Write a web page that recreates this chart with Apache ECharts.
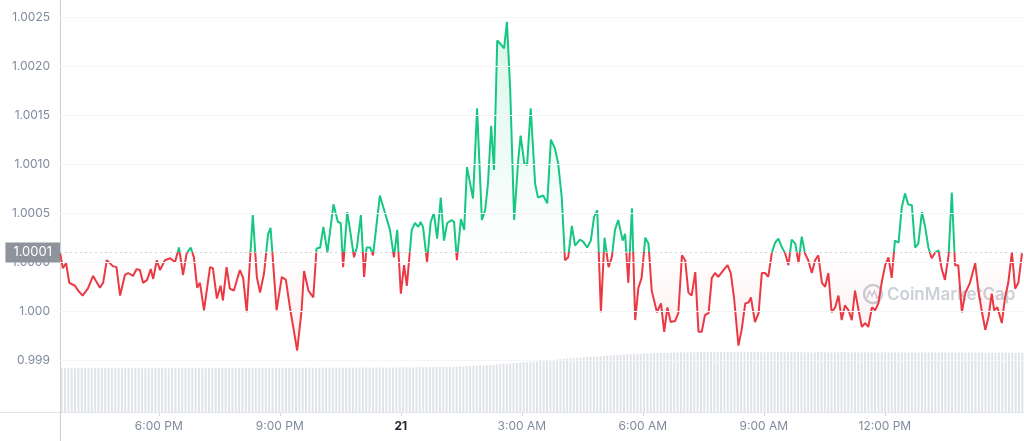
<!DOCTYPE html>
<html><head><meta charset="utf-8">
<script src="https://cdn.jsdelivr.net/npm/echarts@6/dist/echarts.min.js"></script>
<style>html,body{margin:0;padding:0;background:#fff}#c{width:1024px;height:441px}</style>
</head><body><div id="c"></div>
<script>
// hours relative to midnight of the 21st
const times = [
-8.45,-8.38,-8.30,-8.22,-8.08,-8.00,-7.89,-7.76,-7.63,-7.46,
-7.38,-7.29,-7.14,-7.05,-6.96,-6.84,-6.76,-6.64,-6.55,-6.47,
-6.39,-6.29,-6.20,-6.14,-6.05,-5.97,-5.85,-5.72,-5.60,-5.50,
-5.40,-5.31,-5.21,-5.13,-5.05,-4.98,-4.88,-4.73,-4.66,-4.56,
-4.47,-4.41,-4.32,-4.24,-4.14,-3.99,-3.91,-3.82,-3.67,-3.57,
-3.49,-3.39,-3.29,-3.23,-3.18,-3.08,-2.95,-2.85,-2.75,-2.57,
-2.46,-2.40,-2.29,-2.17,-2.09,-2.00,-1.92,-1.82,-1.67,-1.56,
-1.49,-1.43,-1.33,-1.26,-1.16,-1.09,-0.99,-0.91,-0.85,-0.76,
-0.69,-0.52,-0.39,-0.27,-0.17,-0.09,0.00,0.08,0.15,0.27,
0.35,0.43,0.49,0.55,0.65,0.74,0.82,0.90,0.99,1.07,
1.15,1.26,1.32,1.39,1.49,1.57,1.64,1.79,1.89,2.01,
2.09,2.16,2.24,2.31,2.39,2.46,2.56,2.63,2.71,2.81,
2.91,2.97,3.06,3.13,3.22,3.33,3.40,3.53,3.63,3.72,
3.82,3.90,3.99,4.07,4.15,4.24,4.32,4.44,4.52,4.62,
4.71,4.79,4.87,4.96,5.05,5.15,5.23,5.31,5.39,5.50,
5.56,5.64,5.73,5.81,5.89,5.97,6.06,6.14,6.22,6.35,
6.45,6.53,6.61,6.69,6.80,6.88,6.97,7.05,7.13,7.21,
7.30,7.38,7.46,7.54,7.63,7.71,7.79,7.87,8.00,8.10,
8.18,8.26,8.37,8.45,8.54,8.62,8.68,8.78,8.87,8.95,
9.03,9.11,9.20,9.28,9.36,9.45,9.53,9.61,9.69,9.78,
9.86,9.94,10.02,10.10,10.19,10.27,10.35,10.44,10.52,10.60,
10.68,10.77,10.85,10.93,11.01,11.10,11.18,11.26,11.34,11.43,
11.51,11.59,11.68,11.76,11.84,11.92,12.01,12.09,12.17,12.25,
12.34,12.42,12.50,12.58,12.67,12.75,12.83,12.92,13.00,13.08,
13.16,13.25,13.33,13.41,13.49,13.58,13.66,13.74,13.82,13.91,
13.99,14.11,14.24,14.32,14.40,14.49,14.57,14.65,14.71,14.79,
14.90,14.98,15.06,15.15,15.23,15.31,15.40
];
const prices = [
1.00010,0.99994,0.99999,0.99979,0.99976,0.99971,0.99966,0.99973,0.99986,0.99974,
0.99979,1.00002,0.99996,0.99995,0.99966,0.99987,0.99989,0.99986,0.99993,0.99992,
0.99979,0.99982,0.99993,0.99983,1.00002,0.99992,1.00002,1.00004,1.00000,1.00015,
0.99987,1.00009,1.00015,1.00005,0.99974,0.99979,0.99951,0.99995,0.99994,0.99963,
0.99976,0.99961,0.99995,0.99973,0.99971,0.99992,0.99984,0.99949,1.00048,0.99985,
0.99969,0.99989,1.00029,1.00035,1.00007,0.99951,0.99985,0.99982,0.99954,0.99910,
0.99951,0.99991,0.99971,0.99964,1.00014,1.00015,1.00036,1.00010,1.00059,1.00041,
1.00040,0.99995,1.00051,1.00033,1.00005,1.00015,1.00048,0.99985,1.00015,1.00015,
1.00007,1.00068,1.00050,1.00033,1.00005,1.00033,0.99968,0.99997,0.99976,1.00033,
1.00040,1.00036,1.00041,1.00036,1.00000,1.00041,1.00050,1.00024,1.00066,1.00022,
1.00040,1.00043,1.00041,1.00002,1.00044,1.00033,1.00097,1.00065,1.00157,1.00043,
1.00053,1.00080,1.00139,1.00094,1.00226,1.00223,1.00218,1.00245,1.00178,1.00043,
1.00104,1.00129,1.00101,1.00099,1.00157,1.00080,1.00066,1.00068,1.00060,1.00125,
1.00116,1.00101,1.00066,1.00002,1.00005,1.00037,1.00017,1.00023,1.00021,1.00015,
1.00022,1.00046,1.00053,0.99949,1.00025,0.99995,1.00005,1.00033,1.00043,1.00022,
1.00029,0.99979,1.00055,0.99941,0.99974,0.99984,1.00025,1.00019,0.99971,0.99949,
0.99958,0.99929,0.99954,0.99939,0.99940,0.99948,1.00007,1.00002,0.99969,0.99966,
0.99990,0.99929,0.99929,0.99946,0.99948,0.99984,0.99989,0.99985,0.99992,0.99997,
0.99989,0.99964,0.99915,0.99931,0.99958,0.99959,0.99964,0.99939,0.99948,0.99989,
0.99989,0.99985,1.00010,1.00020,1.00024,1.00015,1.00009,0.99997,1.00023,1.00019,
0.99999,1.00026,1.00009,1.00002,0.99989,1.00002,1.00007,0.99979,0.99975,0.99989,
0.99949,0.99954,0.99966,0.99941,0.99956,0.99951,0.99941,0.99971,0.99953,0.99934,
0.99938,0.99934,0.99954,0.99951,0.99958,0.99979,0.99997,1.00005,0.99984,1.00022,
1.00020,1.00056,1.00070,1.00059,1.00058,1.00015,1.00019,1.00051,1.00036,1.00015,
1.00004,1.00010,1.00012,0.99993,0.99982,1.00007,1.00071,0.99997,0.99997,0.99949,
0.99968,0.99979,0.99999,0.99971,0.99951,0.99931,0.99944,0.99968,0.99951,0.99954,
0.99938,0.99964,0.99979,1.00010,0.99973,0.99979,1.00009
];
// 5-minute volume bars (billions)
const volumes = [
4.01,3.99,4.02,4.00,3.98,4.01,4.03,4.00,3.99,4.01,4.02,4.00,4.01,3.98,4.00,4.02,4.01,3.99,4.00,4.01,4.03,4.00,3.99,4.01,
4.00,4.02,4.01,3.99,4.00,4.01,4.02,4.00,3.98,4.01,4.00,4.02,4.01,4.00,3.99,4.01,4.02,4.01,4.00,3.99,4.01,4.02,4.00,4.01,
4.02,4.01,4.03,4.00,4.02,4.01,3.99,4.02,4.03,4.01,4.00,4.02,4.01,4.03,4.02,4.00,4.01,4.03,4.02,4.01,4.00,4.02,4.03,4.01,
4.03,4.02,4.04,4.02,4.03,4.01,4.04,4.03,4.02,4.04,4.03,4.05,4.03,4.02,4.04,4.05,4.03,4.04,4.06,4.04,4.03,4.05,4.06,4.04,
4.05,4.06,4.04,4.07,4.06,4.05,4.07,4.08,4.06,4.07,4.09,4.08,4.07,4.09,4.10,4.08,4.09,4.11,4.10,4.12,4.11,4.13,4.12,4.14,
4.15,4.18,4.17,4.22,4.21,4.25,4.24,4.28,4.30,4.29,4.34,4.36,4.40,4.39,4.43,4.46,4.45,4.51,4.53,4.52,4.58,4.60,4.59,4.65,
4.68,4.70,4.74,4.73,4.78,4.82,4.85,4.88,4.87,4.92,4.95,4.97,4.96,5.01,5.04,5.06,5.05,5.10,5.12,5.15,5.14,5.18,5.20,5.22,
5.24,5.26,5.25,5.29,5.31,5.30,5.33,5.35,5.34,5.37,5.38,5.37,5.40,5.41,5.40,5.42,5.43,5.42,5.44,5.45,5.44,5.45,5.46,5.45,
5.46,5.45,5.47,5.46,5.45,5.46,5.47,5.45,5.46,5.44,5.46,5.47,5.45,5.46,5.45,5.47,5.46,5.45,5.44,5.46,5.45,5.47,5.46,5.45,
5.46,5.44,5.45,5.46,5.45,5.44,5.46,5.45,5.43,5.45,5.46,5.44,5.45,5.43,5.44,5.45,5.44,5.46,5.45,5.43,5.44,5.45,5.44,5.43,
5.44,5.45,5.43,5.44,5.42,5.44,5.45,5.43,5.44,5.42,5.43,5.44,5.43,5.42,5.44,5.43,5.41,5.43,5.44,5.42,5.43,5.41,5.42,5.43,
5.42,5.41,5.43,5.42,5.40,5.42,5.41,5.43,5.42,5.40,5.41,5.42,5.40,5.41,5.42,5.40,5.41,5.39,5.41,5.40,5.42,5.40,5.39,5.41
];
const baseline = 1.0001;
const yTickValues = [0.999, 0.9995, 1.0, 1.0005, 1.001, 1.0015, 1.002, 1.0025];
const yTickLabels = ['0.999', '1.000', '1.0000', '1.0005', '1.0010', '1.0015', '1.0020', '1.0025'];
const xTickValues = [-6, -3, 0, 3, 6, 9, 12];
const xTickLabels = ['6:00 PM', '9:00 PM', '21', '3:00 AM', '6:00 AM', '9:00 AM', '12:00 PM'];

const GREEN = '#16c784', RED = '#ea3943';
const volCats = volumes.map((_, i) => String(i));
function nearest(vals, v) {
  let b = 0;
  for (let i = 1; i < vals.length; i++) if (Math.abs(vals[i] - v) < Math.abs(vals[b] - v)) b = i;
  return b;
}

const chart = echarts.init(document.getElementById('c'), null, {renderer: 'canvas'});
const gridTop = 17, gridBottom = 29, H = 441;
const yMax = 1.0025, yMin = 0.998473;
const baseOffset = (yMax - baseline) / (yMax - yMin);

const lineGrad = new echarts.graphic.LinearGradient(0, gridTop, 0, H - gridBottom, [
  {offset: 0, color: GREEN}, {offset: baseOffset, color: GREEN},
  {offset: baseOffset, color: RED}, {offset: 1, color: RED}
], true);
const areaGrad = new echarts.graphic.LinearGradient(0, gridTop, 0, H - gridBottom, [
  {offset: 0, color: 'rgba(22,199,132,0.24)'},
  {offset: baseOffset, color: 'rgba(22,199,132,0.0)'},
  {offset: baseOffset, color: 'rgba(234,57,67,0.0)'},
  {offset: 0.86, color: 'rgba(234,57,67,0.14)'},
  {offset: 1, color: 'rgba(234,57,67,0.14)'}
], true);

chart.setOption({
  animation: false,
  backgroundColor: '#fff',
  textStyle: {fontFamily: 'Inter'},
  grid: {left: 60, right: 0, top: gridTop, bottom: gridBottom},
  xAxis: [{
    type: 'value', min: -8.45, max: 15.45,
    axisLine: {show: false},
    splitLine: {show: false},
    axisTick: {show: true, customValues: xTickValues, length: 4, lineStyle: {color: '#d3d7dd'}},
    axisLabel: {
      customValues: xTickValues, margin: 8, color: '#808a9d', fontSize: 12, fontFamily: 'Inter',
      formatter: v => { const i = nearest(xTickValues, v); return i === 2 ? '{b|' + xTickLabels[i] + '}' : xTickLabels[i]; },
      rich: {b: {fontWeight: 'bold', color: '#222531', fontSize: 12, fontFamily: 'Inter'}}
    }
  }, {
    type: 'category', data: volCats, show: false, boundaryGap: true
  }],
  yAxis: [{
    type: 'value', min: yMin, max: yMax,
    axisLine: {show: false}, axisTick: {show: false}, splitLine: {show: false},
    axisLabel: {
      customValues: yTickValues, margin: 10, color: '#808a9d', fontSize: 12, fontFamily: 'Inter',
      formatter: v => yTickLabels[nearest(yTickValues, v)]
    }
  }, {
    type: 'value', min: 0, max: 36, show: false
  }],
  graphic: [
    {type: 'line', shape: {x1: 0, y1: H - gridBottom + 0.5, x2: 1024, y2: H - gridBottom + 0.5}, style: {stroke: '#e3e6eb', lineWidth: 1}, z: 1},
    {type: 'line', shape: {x1: 60.5, y1: 0, x2: 60.5, y2: H}, style: {stroke: '#c9ccd1', lineWidth: 1}, z: 1},
    {type: 'group', z: 0, children: [
      {type: 'circle', shape: {cx: 873, cy: 294, r: 9}, style: {fill: 'none', stroke: 'rgba(160,167,180,0.55)', lineWidth: 2.5}},
      {type: 'polyline', shape: {points: [[867, 298], [869.5, 291], [872, 296], [874.5, 291], [877, 298], [879, 296]]}, style: {fill: 'none', stroke: 'rgba(160,167,180,0.55)', lineWidth: 1.6}},
      {type: 'text', x: 887, y: 295, style: {text: 'CoinMarketCap', fontFamily: 'Inter', fontSize: 17, fontWeight: 600, fill: 'rgba(160,167,180,0.55)', verticalAlign: 'middle', align: 'left'}}
    ]}
  ],
  series: [{
    type: 'bar', xAxisIndex: 1, yAxisIndex: 1, data: volumes, barWidth: 2,
    itemStyle: {color: '#e0e3e8'}, silent: true, z: 1
  }, {
    type: 'line', xAxisIndex: 0, yAxisIndex: 0,
    data: times.map((t, i) => [t, prices[i]]),
    symbol: 'none', smooth: false, z: 3,
    lineStyle: {width: 2, color: lineGrad},
    itemStyle: {color: GREEN},
    areaStyle: {origin: baseline, color: areaGrad},
    markLine: {
      silent: true, symbol: ['none', 'none'], animation: false, precision: 6,
      data: [
        ...yTickValues.map(v => ({yAxis: v, lineStyle: {color: '#f4f5f7', type: 'solid', width: 1}, label: {show: false}})),
        {yAxis: baseline, lineStyle: {color: '#cfd3d9', type: [2, 3], width: 1},
         label: {show: true, position: 'start', distance: 0, formatter: '1.0001', color: '#fff',
                 backgroundColor: '#8f939b', padding: [4, 8, 3, 8], fontSize: 13, fontFamily: 'Inter'}}
      ]
    }
  }]
});
</script>
</body></html>
